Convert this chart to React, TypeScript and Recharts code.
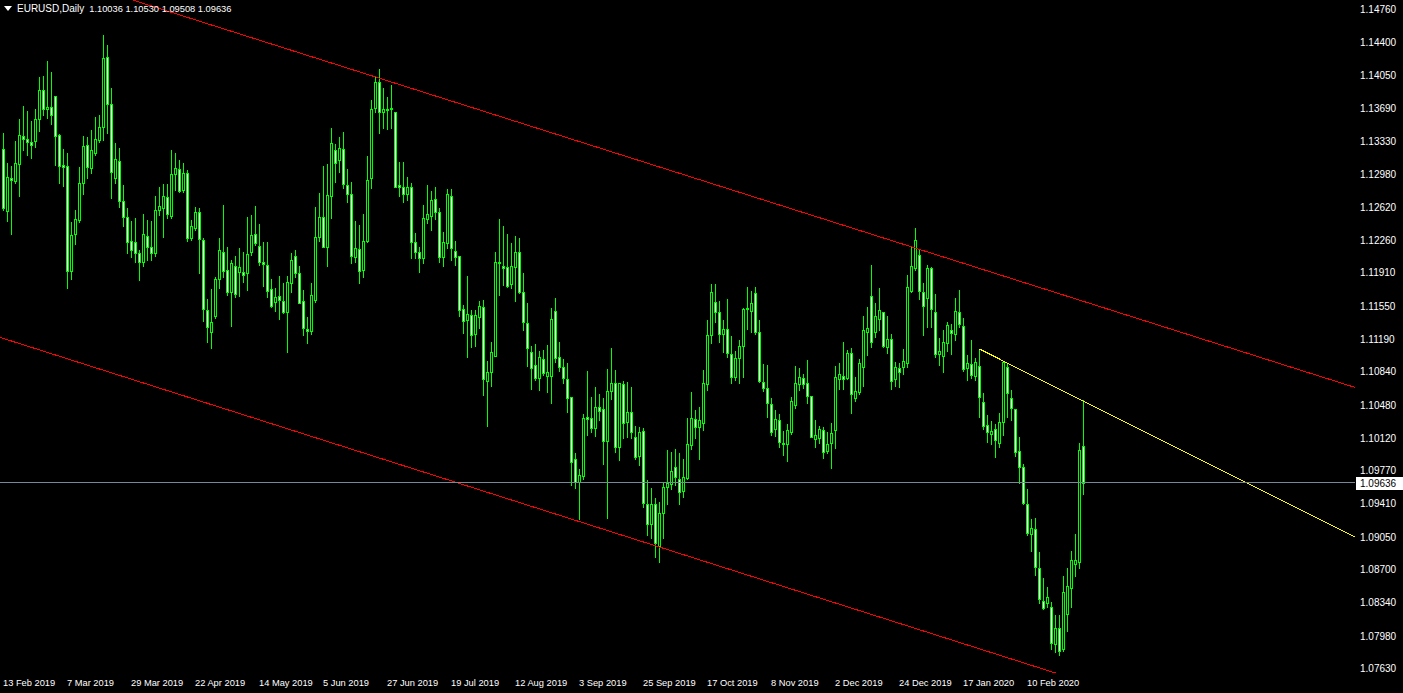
import React from "react";
import { Bar, ComposedChart, ReferenceLine, XAxis, YAxis } from "recharts";

// EURUSD daily candles
const opens = [
  1.13246, 1.12574, 1.12931, 1.12899, 1.13083, 1.13386, 1.13354, 1.13321, 1.13332, 1.1357,
  1.13884, 1.13678, 1.13699, 1.13819, 1.13397, 1.13072, 1.13061, 1.11925, 1.12326, 1.12477,
  1.12878, 1.13289, 1.13039, 1.13202, 1.13343, 1.13483, 1.1424, 1.13732, 1.12931, 1.13115,
  1.12682, 1.12509, 1.1225, 1.12239, 1.12121, 1.12022, 1.12304, 1.12185, 1.12121, 1.12585,
  1.12606, 1.12726, 1.1252, 1.12975, 1.13029, 1.12802, 1.12986, 1.12282, 1.1239, 1.12563,
  1.12261, 1.11503, 1.11265, 1.11438, 1.11839, 1.12131, 1.11936, 1.11698, 1.11979, 1.11914,
  1.11914, 1.11904, 1.12131, 1.12326, 1.12196, 1.12022, 1.1199, 1.11731, 1.1159, 1.11655,
  1.11601, 1.11481, 1.11796, 1.12088, 1.11904, 1.11601, 1.11298, 1.11276, 1.11612, 1.12293,
  1.12509, 1.12185, 1.12737, 1.13234, 1.13126, 1.13246, 1.12856, 1.12759, 1.12077, 1.12164,
  1.11936, 1.1225, 1.12931, 1.13688, 1.1397, 1.13645, 1.13678, 1.13688, 1.13645, 1.12856,
  1.12834, 1.12759, 1.12834, 1.12239, 1.12131, 1.12066, 1.12488, 1.1252, 1.12705, 1.12563,
  1.12077, 1.12229, 1.12737, 1.12142, 1.12088, 1.11515, 1.11395, 1.11449, 1.11244, 1.11427,
  1.11536, 1.10735, 1.10832, 1.11006, 1.12022, 1.11979, 1.11968, 1.11785, 1.11968, 1.12131,
  1.11698, 1.11363, 1.11049, 1.10908, 1.10767, 1.10974, 1.10789, 1.10789, 1.11492, 1.10995,
  1.10886, 1.10757, 1.10562, 1.09892, 1.09642, 1.09707, 1.10345, 1.10334, 1.10226, 1.10454,
  1.10433, 1.10086, 1.10627, 1.10714, 1.10021, 1.10703, 1.10291, 1.10399, 1.10129, 1.09924,
  1.10194, 1.09405, 1.09188, 1.09405, 1.0895, 1.09307, 1.09588, 1.09621, 1.09804, 1.09675,
  1.09545, 1.09685, 1.10043, 1.10324, 1.10237, 1.10281, 1.10703, 1.11233, 1.1159, 1.11481,
  1.11244, 1.11298, 1.11028, 1.10778, 1.10984, 1.11114, 1.11515, 1.11492, 1.11688, 1.11265,
  1.10724, 1.10659, 1.10487, 1.10216, 1.10313, 1.10065, 1.10054, 1.10183, 1.10476, 1.10703,
  1.10767, 1.10714, 1.10573, 1.10108, 1.10118, 1.10205, 1.09978, 1.10065, 1.10205, 1.10757,
  1.10789, 1.10767, 1.11039, 1.10551, 1.10616, 1.10886, 1.11265, 1.11655, 1.11265, 1.11406,
  1.11481, 1.11103, 1.1119, 1.10757, 1.10875, 1.10886, 1.1093, 1.11709, 1.11957, 1.12099,
  1.11698, 1.11633, 1.11957, 1.11481, 1.11028, 1.11006, 1.11147, 1.11287, 1.11244, 1.11481,
  1.1133, 1.10875, 1.10919, 1.10789, 1.10897, 1.10508, 1.10259, 1.10162, 1.10216, 1.10065,
  1.10291, 1.10886, 1.10551, 1.10433, 1.09978, 1.09804, 1.09405, 1.0908, 1.09134, 1.08711,
  1.08355, 1.08334, 1.0829, 1.0789, 1.08062, 1.07836, 1.08214, 1.08495, 1.08755, 1.08776,
  1.10036,
];

const highs = [
  1.13419, 1.13094, 1.13061, 1.13332, 1.1357, 1.1371, 1.13656, 1.13548, 1.13678, 1.14024,
  1.14035, 1.14197, 1.14078, 1.13819, 1.13408, 1.13246, 1.13202, 1.12455, 1.12585, 1.1305,
  1.13386, 1.13375, 1.13451, 1.13591, 1.13613, 1.14479, 1.1437, 1.13905, 1.13311, 1.13256,
  1.12856, 1.12606, 1.12466, 1.12498, 1.12153, 1.12542, 1.12477, 1.12466, 1.12737, 1.12834,
  1.12867, 1.12867, 1.13234, 1.13202, 1.13126, 1.13094, 1.13018, 1.12477, 1.12617, 1.12606,
  1.12282, 1.11623, 1.11731, 1.1186, 1.12282, 1.12639, 1.12185, 1.12044, 1.12088, 1.12174,
  1.12131, 1.12509, 1.12531, 1.12628, 1.12434, 1.12239, 1.12239, 1.11839, 1.11741, 1.11871,
  1.11796, 1.11871, 1.12121, 1.12153, 1.11979, 1.1172, 1.11427, 1.11796, 1.12617, 1.1277,
  1.13061, 1.13083, 1.13472, 1.133, 1.13375, 1.13429, 1.13029, 1.12888, 1.12466, 1.12423,
  1.12542, 1.13169, 1.13775, 1.14024, 1.14111, 1.13905, 1.13808, 1.13938, 1.13645, 1.13104,
  1.13104, 1.12942, 1.12878, 1.12337, 1.12185, 1.12639, 1.12856, 1.12791, 1.12834, 1.12606,
  1.12347, 1.12813, 1.12813, 1.1225, 1.12088, 1.11558, 1.11871, 1.11503, 1.11503, 1.11601,
  1.11612, 1.10951, 1.11157, 1.12131, 1.12488, 1.12412, 1.12326, 1.12229, 1.12304, 1.12282,
  1.11904, 1.1158, 1.11114, 1.11136, 1.1106, 1.11071, 1.11125, 1.11525, 1.11633, 1.11157,
  1.10974, 1.1093, 1.10562, 1.09957, 1.09783, 1.10378, 1.10843, 1.10562, 1.1067, 1.10595,
  1.10551, 1.10865, 1.11092, 1.10854, 1.10714, 1.10735, 1.10724, 1.1067, 1.10248, 1.10237,
  1.10226, 1.09664, 1.09577, 1.09469, 1.09426, 1.09632, 1.09989, 1.09967, 1.1, 1.09957,
  1.09892, 1.10334, 1.10616, 1.10421, 1.10454, 1.10854, 1.11395, 1.11785, 1.11785, 1.11601,
  1.11395, 1.11623, 1.11222, 1.1106, 1.11179, 1.11525, 1.11752, 1.11709, 1.11752, 1.11395,
  1.10919, 1.10908, 1.10551, 1.10421, 1.10378, 1.10194, 1.1027, 1.10562, 1.10897, 1.10875,
  1.10811, 1.10962, 1.10573, 1.10313, 1.10248, 1.10237, 1.10183, 1.10281, 1.10897, 1.1093,
  1.11157, 1.11071, 1.11092, 1.10778, 1.10974, 1.11438, 1.11536, 1.1199, 1.1158, 1.11741,
  1.11481, 1.11438, 1.11244, 1.1094, 1.1093, 1.11082, 1.11882, 1.12185, 1.1239, 1.12153,
  1.11796, 1.1199, 1.11968, 1.11677, 1.112, 1.11287, 1.11373, 1.11352, 1.11633, 1.1172,
  1.11416, 1.11017, 1.11179, 1.10984, 1.11082, 1.10606, 1.10367, 1.10302, 1.1027, 1.10389,
  1.10951, 1.10919, 1.10638, 1.10433, 1.10129, 1.09837, 1.09567, 1.09242, 1.09252, 1.08885,
  1.08603, 1.08506, 1.08344, 1.08203, 1.08203, 1.08625, 1.08711, 1.08896, 1.0908, 1.10065,
  1.1053,
];

const lows = [
  1.12585, 1.12466, 1.12326, 1.12878, 1.12737, 1.13234, 1.1318, 1.13147, 1.13267, 1.1344,
  1.13613, 1.1358, 1.13516, 1.13072, 1.12878, 1.12845, 1.11741, 1.11839, 1.12218, 1.12455,
  1.12759, 1.12931, 1.12986, 1.1318, 1.13321, 1.13343, 1.13419, 1.12715, 1.12878, 1.12617,
  1.12412, 1.12121, 1.12077, 1.12022, 1.11828, 1.11979, 1.12044, 1.12044, 1.12088, 1.12531,
  1.12293, 1.12498, 1.12498, 1.12802, 1.1278, 1.1278, 1.1225, 1.12261, 1.12369, 1.11904,
  1.11384, 1.11157, 1.11092, 1.11416, 1.11741, 1.1186, 1.11666, 1.1133, 1.11644, 1.11655,
  1.11806, 1.1172, 1.12099, 1.12207, 1.1199, 1.11763, 1.11644, 1.11536, 1.11492, 1.11406,
  1.11471, 1.11049, 1.11698, 1.1186, 1.1158, 1.11233, 1.11147, 1.11244, 1.1159, 1.1225,
  1.12185, 1.11979, 1.12498, 1.12888, 1.12996, 1.12823, 1.12671, 1.12012, 1.12022, 1.11796,
  1.1186, 1.12239, 1.12823, 1.13645, 1.13419, 1.13472, 1.13462, 1.13472, 1.12834, 1.12737,
  1.12671, 1.12693, 1.12066, 1.12066, 1.11914, 1.12012, 1.12445, 1.12369, 1.12488, 1.12022,
  1.11979, 1.12174, 1.12044, 1.1199, 1.11438, 1.11255, 1.10995, 1.11103, 1.11114, 1.11308,
  1.10584, 1.10248, 1.10681, 1.11006, 1.11666, 1.11774, 1.11752, 1.11741, 1.11601, 1.11688,
  1.11287, 1.10897, 1.10649, 1.10746, 1.10638, 1.108, 1.10616, 1.10498, 1.1094, 1.10843,
  1.10714, 1.10399, 1.0961, 1.09577, 1.09242, 1.09675, 1.10151, 1.10183, 1.1014, 1.10313,
  1.09837, 1.09252, 1.10541, 1.09967, 1.0988, 1.10118, 1.10129, 1.10118, 1.09892, 1.09826,
  1.09372, 1.09069, 1.09036, 1.08831, 1.08776, 1.09036, 1.09405, 1.09567, 1.0961, 1.09405,
  1.0948, 1.09675, 1.1, 1.10118, 1.09892, 1.10205, 1.10638, 1.11147, 1.11373, 1.11157,
  1.11049, 1.10995, 1.10714, 1.10746, 1.10714, 1.10778, 1.11298, 1.11265, 1.11244, 1.10724,
  1.10627, 1.10345, 1.10151, 1.1014, 1.10021, 1.09935, 1.09869, 1.10162, 1.10443, 1.10638,
  1.10659, 1.10498, 1.10129, 1.10021, 1.10065, 1.09902, 1.09957, 1.09793, 1.1001, 1.10649,
  1.10649, 1.10757, 1.10389, 1.10519, 1.10595, 1.10681, 1.11017, 1.11103, 1.11211, 1.11287,
  1.11103, 1.11039, 1.10649, 1.10681, 1.1067, 1.10811, 1.10886, 1.11698, 1.11936, 1.11623,
  1.11233, 1.11319, 1.11319, 1.10995, 1.10908, 1.10832, 1.1106, 1.11028, 1.11179, 1.11319,
  1.10843, 1.10746, 1.10767, 1.10746, 1.10345, 1.10216, 1.10075, 1.10054, 1.09913, 1.10021,
  1.10151, 1.10345, 1.10313, 1.09924, 1.09632, 1.09405, 1.09069, 1.08896, 1.08636, 1.08334,
  1.08269, 1.0829, 1.07836, 1.07803, 1.07771, 1.07814, 1.0803, 1.0829, 1.08625, 1.08711,
  1.09508,
];

const closes = [
  1.12606, 1.12942, 1.1291, 1.13094, 1.13397, 1.13354, 1.13321, 1.13289, 1.1357, 1.13884,
  1.13678, 1.13699, 1.13613, 1.13386, 1.13061, 1.1305, 1.11925, 1.12315, 1.12488, 1.12878,
  1.13278, 1.1305, 1.13234, 1.13354, 1.13483, 1.14229, 1.13732, 1.12996, 1.13137, 1.12682,
  1.12509, 1.12239, 1.12153, 1.12121, 1.12022, 1.12326, 1.12185, 1.12121, 1.12585, 1.12628,
  1.12737, 1.12542, 1.12975, 1.13039, 1.12791, 1.12986, 1.12282, 1.12412, 1.12563, 1.12272,
  1.11515, 1.11319, 1.11373, 1.11839, 1.12153, 1.11925, 1.11698, 1.12012, 1.11677, 1.11968,
  1.11882, 1.1211, 1.12315, 1.12229, 1.12022, 1.12001, 1.11709, 1.11547, 1.11644, 1.11612,
  1.11481, 1.11806, 1.12044, 1.11904, 1.1158, 1.11308, 1.11276, 1.11666, 1.12293, 1.12509,
  1.12185, 1.12748, 1.13311, 1.13094, 1.13256, 1.12867, 1.12759, 1.12088, 1.12174, 1.11925,
  1.1225, 1.1291, 1.13678, 1.1397, 1.13645, 1.13678, 1.13667, 1.13678, 1.12834, 1.12834,
  1.12759, 1.12834, 1.12239, 1.12131, 1.12066, 1.12498, 1.12542, 1.12693, 1.12563, 1.12077,
  1.12239, 1.12759, 1.12174, 1.12077, 1.11503, 1.11384, 1.1146, 1.11233, 1.11449, 1.11547,
  1.10757, 1.10832, 1.11049, 1.12022, 1.12012, 1.11957, 1.11763, 1.11979, 1.12131, 1.11698,
  1.11373, 1.11092, 1.10875, 1.10767, 1.10995, 1.10822, 1.10832, 1.11406, 1.10984, 1.10886,
  1.10767, 1.10551, 1.09858, 1.09642, 1.09718, 1.10334, 1.10324, 1.10226, 1.10454, 1.1041,
  1.10086, 1.10627, 1.10714, 1.10021, 1.10714, 1.10281, 1.10399, 1.10183, 1.09913, 1.10183,
  1.09416, 1.09188, 1.09405, 1.08983, 1.09307, 1.09588, 1.09632, 1.09761, 1.09696, 1.09534,
  1.09696, 1.10054, 1.10334, 1.10237, 1.10313, 1.10714, 1.11233, 1.11698, 1.11481, 1.11244,
  1.11298, 1.11039, 1.10778, 1.10984, 1.11114, 1.11515, 1.11525, 1.1158, 1.11265, 1.10735,
  1.10659, 1.10498, 1.10183, 1.10324, 1.10075, 1.10054, 1.10205, 1.10519, 1.10714, 1.10778,
  1.10703, 1.10573, 1.10129, 1.10151, 1.10216, 1.09967, 1.10054, 1.10173, 1.10778, 1.10811,
  1.10757, 1.11039, 1.10595, 1.10627, 1.1093, 1.11287, 1.11308, 1.11157, 1.11438, 1.11503,
  1.11114, 1.1119, 1.10735, 1.10886, 1.10832, 1.10951, 1.11752, 1.11979, 1.12261, 1.11709,
  1.11547, 1.11957, 1.11515, 1.11028, 1.1106, 1.11157, 1.11341, 1.11255, 1.11492, 1.11352,
  1.10865, 1.1093, 1.108, 1.1094, 1.10562, 1.10248, 1.10183, 1.10194, 1.10097, 1.10291,
  1.1094, 1.10606, 1.10443, 1.09967, 1.09804, 1.09416, 1.09091, 1.09144, 1.08722, 1.08377,
  1.08279, 1.08398, 1.07901, 1.08062, 1.07814, 1.08452, 1.08517, 1.08798, 1.08798, 1.09989,
  1.09636,
];

const dateTicks = [0, 16, 32, 48, 64, 80, 96, 112, 128, 144, 160, 176, 192, 208, 224, 240, 256];
const dateLabels = [
  "13 Feb 2019", "7 Mar 2019", "29 Mar 2019", "22 Apr 2019", "14 May 2019", "5 Jun 2019",
  "27 Jun 2019", "19 Jul 2019", "12 Aug 2019", "3 Sep 2019", "25 Sep 2019", "17 Oct 2019",
  "8 Nov 2019", "2 Dec 2019", "24 Dec 2019", "17 Jan 2020", "10 Feb 2020",
];

const priceTicks = [
  1.1476, 1.144, 1.1405, 1.1369, 1.1333, 1.1298, 1.1262, 1.1226, 1.1191, 1.1155, 1.1119,
  1.1084, 1.1048, 1.1012, 1.0977, 1.0941, 1.0905, 1.087, 1.0834, 1.0798, 1.0763,
];

const bidPrice = 1.09636;

// trend lines (bar index, price)
const upperChannel = [{ x: -1, y: 1.15314 }, { x: 338, y: 1.10664 }];
const lowerChannel = [{ x: -1, y: 1.11209 }, { x: 338, y: 1.06544 }];
const yellowTrend = [{ x: 244, y: 1.11081 }, { x: 338, y: 1.09043 }];

const rows = opens.map((o, i) => ({
  i,
  open: o,
  high: highs[i],
  low: lows[i],
  close: closes[i],
  range: [lows[i], highs[i]],
}));

const LIME = "#00ff00";
const FONT = '"Liberation Sans", Arial, sans-serif';

const Candle = (props: any) => {
  const { x, y, width, height, payload } = props;
  if (!payload) return null;
  const top = Math.min(y, y + height);
  const h = Math.abs(height);
  const { open, high, low, close } = payload;
  const span = high - low || 1e-9;
  const yOf = (v: number) => Math.round(top + ((high - v) / span) * h);
  const cx = Math.floor(x + width / 2);
  const yH = yOf(high);
  const yL = yOf(low);
  const yO = yOf(open);
  const yC = yOf(close);
  const bTop = Math.min(yO, yC);
  const bBot = Math.max(yO, yC);
  return (
    <g>
      <rect x={cx} y={yH} width={1} height={yL - yH + 1} fill={LIME} />
      <rect x={cx - 1} y={bTop} width={3} height={bBot - bTop + 1} fill={LIME} />
      {bBot - bTop >= 2 && (
        <rect x={cx} y={bTop + 1} width={1} height={bBot - bTop - 1} fill={close >= open ? "#000" : "#fff"} />
      )}
    </g>
  );
};

const DateTick = (props: any) => {
  const { x, payload } = props;
  const label = dateLabels[dateTicks.indexOf(payload.value)];
  return (
    <text x={Math.floor(x)} y={686} fill="#fff" fontSize={9.3} fontFamily={FONT}>
      {label}
    </text>
  );
};

const PriceTick = (props: any) => {
  const { y, payload } = props;
  const yy = Math.round(y);
  return (
    <text x={1360} y={yy + 4} fill="#fff" fontSize={10} fontFamily={FONT}>
      {payload.value.toFixed(5)}
    </text>
  );
};

const BidLabel = (props: any) => {
  const { viewBox } = props;
  const yy = Math.round(viewBox.y);
  const left = viewBox.x + viewBox.width;
  return (
    <g>
      <rect x={left + 1} y={yy - 6} width={47} height={13} fill="#fff" />
      <text x={left + 5} y={yy + 4} fill="#000" fontSize={10} fontFamily={FONT}>
        {bidPrice.toFixed(5)}
      </text>
    </g>
  );
};

const last = rows[rows.length - 1];

export default function App() {
  return (
    <div style={{ position: "absolute", left: 0, top: 0, width: 1403, height: 693, background: "#000", overflow: "hidden" }}>
      <ComposedChart width={1403} height={693} data={rows} margin={{ top: 0, right: 0, bottom: 0, left: 0 }}>
        <XAxis
          dataKey="i"
          type="number"
          domain={[-0.875, 337.875]}
          allowDataOverflow
          ticks={dateTicks}
          interval={0}
          height={20}
          axisLine={false}
          tickLine={false}
          tick={<DateTick />}
        />
        <YAxis
          orientation="right"
          type="number"
          domain={[1.075759, 1.148574]}
          allowDataOverflow
          ticks={priceTicks}
          interval={0}
          width={48}
          axisLine={false}
          tickLine={false}
          tick={<PriceTick />}
        />
        <ReferenceLine segment={upperChannel} stroke="#ff0000" strokeWidth={1} ifOverflow="hidden" shapeRendering="crispEdges" />
        <ReferenceLine segment={lowerChannel} stroke="#ff0000" strokeWidth={1} ifOverflow="hidden" shapeRendering="crispEdges" />
        <ReferenceLine segment={yellowTrend} stroke="#ffff00" strokeWidth={1} ifOverflow="hidden" shapeRendering="crispEdges" />
        <ReferenceLine y={bidPrice} stroke="#778899" strokeWidth={1} shapeRendering="crispEdges" label={<BidLabel />} />
        <Bar dataKey="range" barSize={3} shape={<Candle />} isAnimationActive={false} />
      </ComposedChart>
      <div
        style={{
          position: "absolute",
          left: 4,
          top: 3,
          color: "#fff",
          fontFamily: FONT,
          fontSize: 10,
          lineHeight: "12px",
          whiteSpace: "pre",
          display: "flex",
          alignItems: "center",
        }}
      >
        <svg width={9} height={6} style={{ marginRight: 4 }}>
          <polygon points="0,0 8,0 4,5" fill="#fff" />
        </svg>
        <span>EURUSD,Daily</span>
        <span style={{ fontSize: 9.3, marginLeft: 5 }}>
          {last.open.toFixed(5)} {last.high.toFixed(5)} {last.low.toFixed(5)} {last.close.toFixed(5)}
        </span>
      </div>
    </div>
  );
}
